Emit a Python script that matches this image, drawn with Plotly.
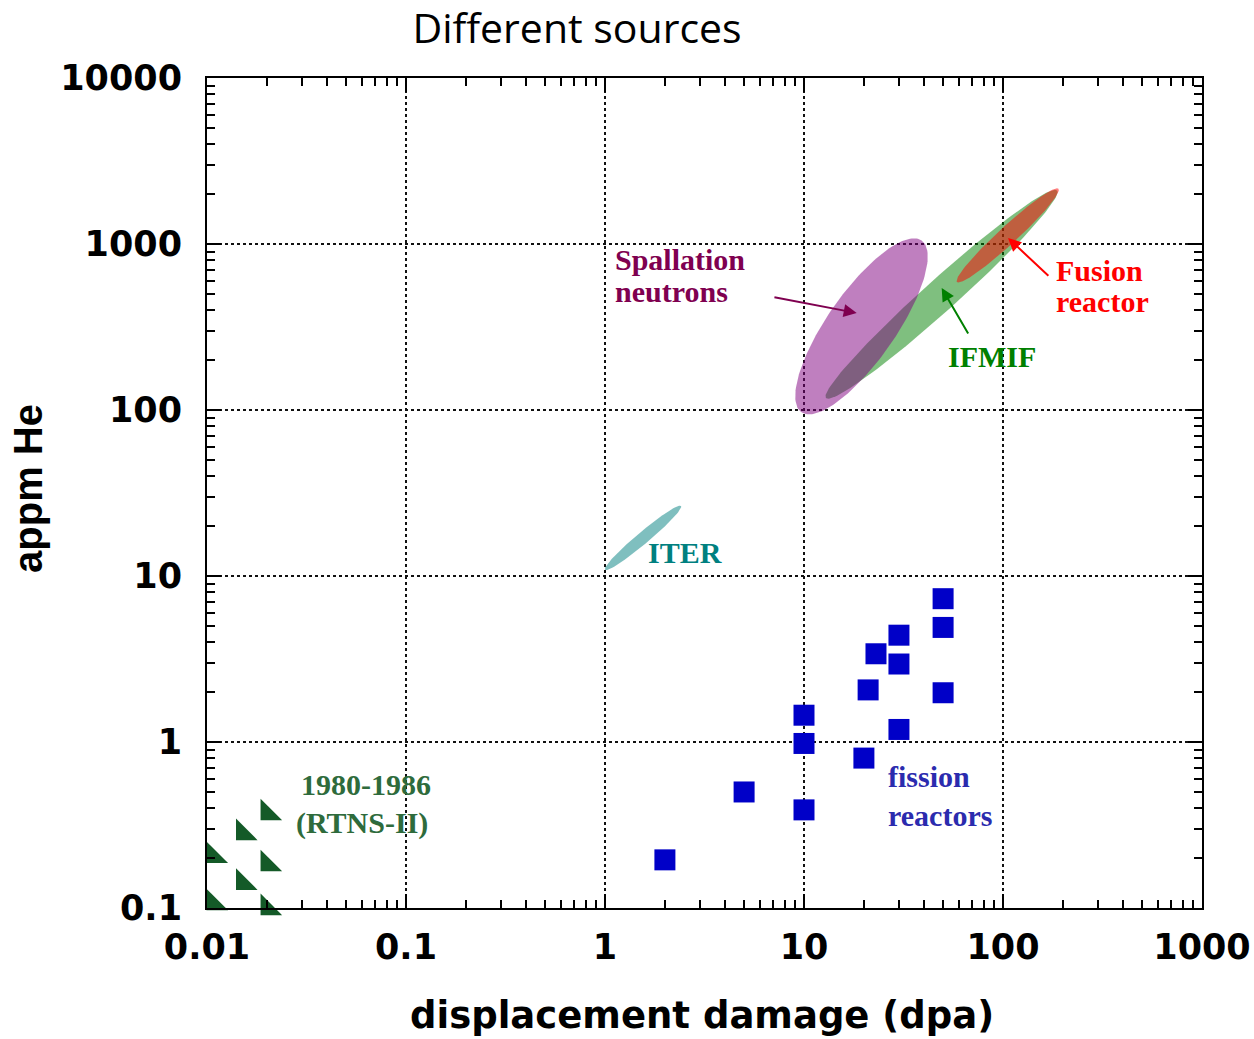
import numpy as np
import plotly.graph_objects as go

# ---------------- data ----------------
# fission reactors (blue squares)
fission_dpa = [50, 50, 30, 23, 30, 21, 50, 10, 30, 10, 20, 5, 10, 2]
fission_he = [7.3, 4.9, 4.4, 3.4, 2.95, 2.06, 1.98, 1.45, 1.19, 0.98, 0.8, 0.5, 0.39, 0.195]

# RTNS-II 1980-1986 (green triangles)
rtns_dpa = [0.0108, 0.0108, 0.0152, 0.0152, 0.0202, 0.0202, 0.0202]
rtns_he = [0.206, 0.107, 0.283, 0.142, 0.373, 0.184, 0.1]

# source regions: extent along main axis (low end -> high end) and half-width
region_names = ["IFMIF", "Spallation neutrons", "Fusion reactor", "ITER"]
region_dpa_lo = [12.9, 9.7, 58.7, 1.0]
region_he_lo = [118, 97, 590, 10.9]
region_dpa_hi = [187, 39, 190, 2.41]
region_he_hi = [2100, 1050, 2150, 26.4]
region_halfwidth = [16, 34, 9, 6]
region_fill = ["rgba(0,128,0,0.5)", "rgba(128,0,128,0.5)",
               "rgba(255,0,0,0.5)", "rgba(0,128,128,0.5)"]

# axis ticks
x_tickvals = [0.01, 0.1, 1, 10, 100, 1000]
x_ticktext = ["0.01", "0.1", "1", "10", "100", "1000"]
y_tickvals = [0.1, 1, 10, 100, 1000, 10000]
y_ticktext = ["0.1", "1", "10", "100", "1000", "10000"]

# text labels
label_text = ["Spallation", "neutrons", "Fusion", "reactor", "IFMIF", "ITER",
              "fission", "reactors", "1980-1986", "(RTNS-II)"]
label_dpa = [1.10, 1.10, 180, 180, 51.8, 1.60, 25.8, 25.8, 0.0290, 0.0275]
label_he = [802, 514, 697, 448, 211, 13.8, 0.624, 0.363, 0.551, 0.325]
label_color = ["#7F0050", "#7F0050", "#FF0000", "#FF0000", "#008000", "#008080",
               "#2B2BAE", "#2B2BAE", "#2E6B3C", "#2E6B3C"]

# arrows (tail -> head)
arrow_tail_dpa = [6.98, 67.5, 172]
arrow_tail_he = [480, 283, 632]
arrow_head_dpa = [18.4, 49.2, 106]
arrow_head_he = [384, 543, 1086]
arrow_color = ["#7F0050", "#008000", "#FF0000"]

# ---------------- layout geometry ----------------
W, H = 1254, 1039
ML, MR, MT, MB = 207, 52, 78, 131
XR = [-2, 3]
YR = [-1, 4]
XPX = (W - ML - MR) / (XR[1] - XR[0])
YPX = (H - MT - MB) / (YR[1] - YR[0])


def ellipse(x1, y1, x2, y2, hw, n=160):
    u1, v1 = np.log10(x1) * XPX, np.log10(y1) * YPX
    u2, v2 = np.log10(x2) * XPX, np.log10(y2) * YPX
    cu, cv = (u1 + u2) / 2, (v1 + v2) / 2
    a = np.hypot(u2 - u1, v2 - v1) / 2
    th = np.arctan2(v2 - v1, u2 - u1)
    t = np.linspace(0, 2 * np.pi, n)
    u = cu + a * np.cos(t) * np.cos(th) - hw * np.sin(t) * np.sin(th)
    v = cv + a * np.cos(t) * np.sin(th) + hw * np.sin(t) * np.cos(th)
    return 10 ** (u / XPX), 10 ** (v / YPX)


fig = go.Figure()

for i, name in enumerate(region_names):
    ex, ey = ellipse(region_dpa_lo[i], region_he_lo[i],
                     region_dpa_hi[i], region_he_hi[i], region_halfwidth[i])
    fig.add_trace(go.Scatter(x=ex, y=ey, mode="lines", fill="toself",
                             fillcolor=region_fill[i], line=dict(width=0),
                             name=name, hoverinfo="skip", showlegend=False))

fig.add_trace(go.Scatter(x=fission_dpa, y=fission_he, mode="markers",
                         marker=dict(symbol="square", size=21, color="#0000C8",
                                     line=dict(width=0)),
                         cliponaxis=False, showlegend=False, name="fission"))

fig.add_trace(go.Scatter(x=rtns_dpa, y=rtns_he, mode="markers",
                         marker=dict(symbol="triangle-sw", size=24, color="#145A28",
                                     line=dict(width=0)),
                         cliponaxis=False, showlegend=False, name="RTNS-II"))

serif = "Liberation Serif"
for t, xv, yv, c in zip(label_text, label_dpa, label_he, label_color):
    fig.add_annotation(x=np.log10(xv), y=np.log10(yv), text=t, showarrow=False,
                       xanchor="left", yanchor="middle", xref="x", yref="y",
                       font=dict(family=serif, size=30, color=c, weight="bold"))

for i in range(len(arrow_color)):
    fig.add_annotation(x=np.log10(arrow_head_dpa[i]), y=np.log10(arrow_head_he[i]),
                       ax=np.log10(arrow_tail_dpa[i]), ay=np.log10(arrow_tail_he[i]),
                       xref="x", yref="y", axref="x", ayref="y", text="",
                       showarrow=True, arrowhead=2, arrowsize=1.3, arrowwidth=2,
                       arrowcolor=arrow_color[i])

# axis titles
fig.add_annotation(x=0.497, y=-0.129, xref="paper", yref="paper",
                   text="displacement damage (dpa)", showarrow=False,
                   xanchor="center", yanchor="middle",
                   font=dict(family="DejaVu Sans", size=37, color="black", weight="bold"))
fig.add_annotation(x=-0.18, y=0.506, xref="paper", yref="paper",
                   text="appm He", showarrow=False, textangle=-90,
                   xanchor="center", yanchor="middle",
                   font=dict(family="Liberation Sans", size=40, color="black", weight="bold"))

minor_vals = [k * 10.0 ** e for e in range(-3, 5) for k in range(2, 10)]

axis_common = dict(
    type="log", showline=True, linecolor="black", linewidth=2, mirror="allticks",
    ticks="inside", ticklen=14, tickwidth=2, tickcolor="black",
    showgrid=True, gridcolor="#111111", gridwidth=2, griddash="dot",
    zeroline=False, automargin=False,
    tickfont=dict(family="DejaVu Sans", size=35, color="black", weight="bold"),
    minor=dict(ticks="inside", ticklen=8, tickwidth=1.5, tickcolor="black",
               tickmode="array", tickvals=minor_vals, showgrid=False),
)

fig.update_xaxes(range=XR, tickmode="array", tickvals=x_tickvals,
                 ticktext=x_ticktext, ticklabelstandoff=7, **axis_common)
fig.update_yaxes(range=YR, tickmode="array", tickvals=y_tickvals,
                 ticktext=y_ticktext, ticklabelstandoff=16, **axis_common)

fig.update_layout(
    width=W, height=H, autosize=False,
    margin=dict(l=ML, r=MR, t=MT, b=MB, pad=0),
    paper_bgcolor="white", plot_bgcolor="white",
    title=dict(text="Different sources", x=577 / W, xanchor="center",
               y=1 - 29 / H, yanchor="middle", xref="container", yref="container",
               automargin=False,
               font=dict(family="Open Sans", size=41, color="black")),
    showlegend=False,
)

fig.write_html("out.html", config={"displayModeBar": False},
               post_script="document.body.style.margin='0';")
